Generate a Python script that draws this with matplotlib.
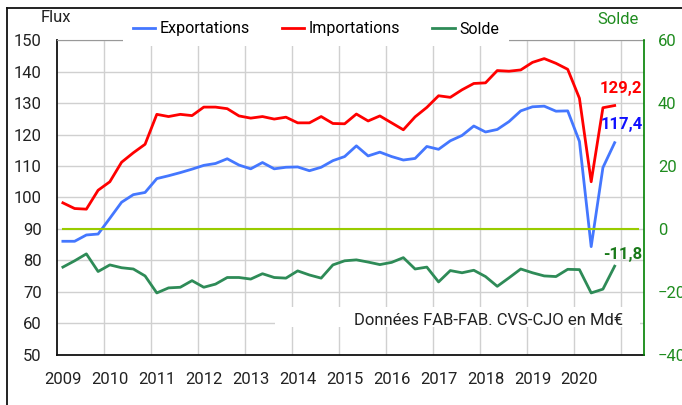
import matplotlib
matplotlib.use("Agg")
import matplotlib.pyplot as plt
from matplotlib.lines import Line2D
from matplotlib.patches import Rectangle
import numpy as np

plt.rcParams['font.family'] = ['Roboto', 'DejaVu Sans']

# quarterly data 2009T1 .. 2020T4
years = list(range(2009, 2021))
exports = [86.1, 86.1, 88.1, 88.4, 93.4, 98.5, 100.9, 101.6,
           106.0, 106.9, 107.9, 109.0, 110.2, 110.8, 112.3, 110.3,
           109.1, 111.1, 109.1, 109.6, 109.7, 108.5, 109.6, 111.7,
           113.0, 116.4, 113.2, 114.4, 113.0, 111.9, 112.4, 116.2,
           115.3, 118.0, 119.7, 122.7, 120.8, 121.6, 124.1, 127.5,
           128.8, 129.0, 127.4, 127.5, 117.8, 84.4, 109.5, 117.4]
imports = [98.3, 96.5, 96.3, 102.3, 105.0, 111.2, 114.2, 116.9,
           126.4, 125.7, 126.4, 126.0, 128.7, 128.7, 128.2, 125.9,
           125.2, 125.7, 124.9, 125.5, 123.7, 123.7, 125.7, 123.5,
           123.4, 126.5, 124.3, 125.9, 123.7, 121.5, 125.6, 128.6,
           132.3, 131.8, 134.2, 136.2, 136.4, 140.3, 140.1, 140.5,
           142.9, 144.1, 142.6, 140.7, 131.5, 105.0, 128.5, 129.2]
solde = [-12.1, -10.1, -7.9, -13.5, -11.4, -12.3, -12.7, -14.9,
         -20.3, -18.7, -18.5, -16.4, -18.5, -17.5, -15.4, -15.4,
         -15.9, -14.2, -15.4, -15.6, -13.3, -14.6, -15.6, -11.4,
         -10.1, -9.8, -10.5, -11.3, -10.6, -9.1, -12.7, -12.1,
         -16.8, -13.2, -13.9, -13.1, -15.1, -18.2, -15.5, -12.7,
         -13.9, -14.9, -15.1, -12.8, -12.9, -20.3, -19.1, -11.8]

blue = "#4477ff"
red = "#ff0000"
green = "#2e8b57"
txt_green = "#1f8c1f"

x = np.arange(len(exports))

fig = plt.figure(figsize=(6.82, 4.05), dpi=100)
ax = fig.add_axes([0.0836, 0.1235, 0.8607, 0.7777])
ax2 = ax.twinx()

ax.set_xlim(-0.5, 49.5)
ax.set_ylim(50, 150)
ax2.set_ylim(-40, 60)

ax.set_yticks(np.arange(50, 151, 10))
ax2.set_yticks(np.arange(-40, 61, 20))
ax.set_xticks([4 * k for k in range(len(years))])
ax.set_xticklabels([str(y) for y in years])
ax.set_xticks([4 * k + 3.5 for k in range(len(years))], minor=True)

ax.grid(True, which="minor", axis="x", color="#d0d0d0", lw=1)
ax.grid(True, which="major", axis="y", color="#d0d0d0", lw=1)
ax.set_axisbelow(True)

ax.tick_params(axis="both", which="both", length=0, labelsize=12, colors="#222222")
ax.tick_params(axis="y", pad=11)
ax.tick_params(axis="x", pad=12)
ax2.tick_params(axis="y", length=0, labelsize=12, colors=txt_green, pad=10)

for s in ["left", "bottom"]:
    ax.spines[s].set_color("#111111")
    ax.spines[s].set_linewidth(1.3)
ax.spines["top"].set_color("#999999")
ax.spines["right"].set_visible(False)
for s in ["left", "bottom", "top"]:
    ax2.spines[s].set_visible(False)
ax2.spines["right"].set_color("green")
ax2.spines["right"].set_linewidth(1.2)

# note box
ax.add_patch(Rectangle((0.371, 0.089), 0.622, 0.063, transform=ax.transAxes,
                       facecolor="white", edgecolor="none", zorder=1.5))
ax.text(0.965, 0.108, "Données FAB-FAB. CVS-CJO en Md€", transform=ax.transAxes,
        ha="right", va="center", fontsize=12, color="#222222", zorder=3)

ax2.axhline(0, xmin=0.01, xmax=0.99, color="#99cc00", lw=1.5, zorder=1)
l1, = ax.plot(x, exports, color=blue, lw=2, label="Exportations")
l2, = ax.plot(x, imports, color=red, lw=2, label="Importations")
l3, = ax2.plot(x, solde, color=green, lw=2, label="Solde")

ax.annotate("129,2", (x[-1], imports[-1]), xytext=(20, 7), textcoords="offset points",
            ha="right", va="bottom", color=red, fontsize=12, fontweight="bold")
ax.annotate("117,4", (x[-1], exports[-1]), xytext=(20, 8), textcoords="offset points",
            ha="right", va="bottom", color="#1010ff", fontsize=12, fontweight="bold")
ax2.annotate("-11,8", (x[-1], solde[-1]), xytext=(20, 3), textcoords="offset points",
             ha="right", va="bottom", color="#1a7a1a", fontsize=12, fontweight="bold")

fig.text(56 / 682, 1 - 18 / 405, "Flux", ha="center", va="center", fontsize=12, color="#222222")
fig.text(618 / 682, 1 - 19 / 405, "Solde", ha="center", va="center", fontsize=12, color=txt_green)

leg = fig.legend(handles=[l1, l2, l3], loc="center", bbox_to_anchor=(316 / 682, 1 - 29 / 405),
                 ncol=3, frameon=True, fontsize=11.5, handlelength=1.4, handletextpad=0.3,
                 columnspacing=2.0, borderpad=0.6, fancybox=False)
leg.get_frame().set_facecolor("white")
leg.get_frame().set_edgecolor("none")
leg.get_frame().set_alpha(1)

# outer frame edges
fig.add_artist(Line2D([7 / 682, 7 / 682], [0, 1 - 8 / 405], color="#111111", lw=1.3))
fig.add_artist(Line2D([7 / 682, 1], [1 - 8 / 405, 1 - 8 / 405], color="#111111", lw=1.3))

fig.savefig("out.png", dpi=100)
